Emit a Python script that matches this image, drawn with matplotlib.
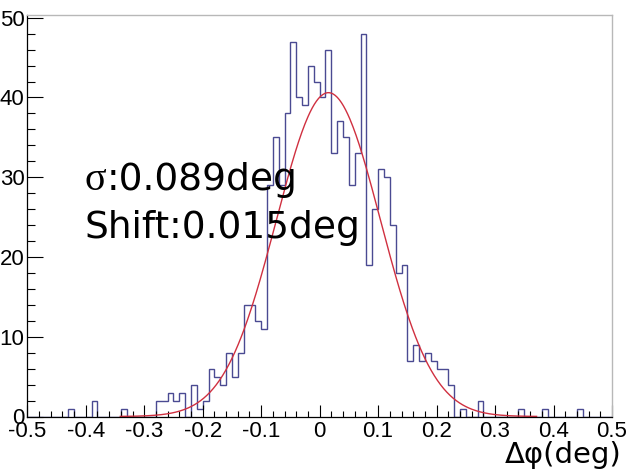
import numpy as np
import matplotlib.pyplot as plt
from matplotlib.ticker import MultipleLocator
from matplotlib.transforms import ScaledTranslation

# delta-phi residuals, 100 bins of 0.01 deg between -0.5 and 0.5
counts = [
    0, 0, 0, 0, 0, 0, 0, 1, 0, 0,
    0, 2, 0, 0, 0, 0, 1, 0, 0, 0,
    0, 0, 2, 2, 3, 2, 3, 0, 4, 1,
    2, 6, 5, 4, 8, 5, 8, 14, 14, 12,
    11, 29, 35, 29, 38, 47, 40, 39, 44, 42,
    40, 46, 33, 37, 35, 29, 33, 48, 19, 26,
    31, 30, 24, 18, 19, 7, 9, 7, 8, 7,
    6, 6, 4, 0, 1, 0, 0, 2, 0, 0,
    0, 0, 0, 0, 1, 0, 0, 0, 1, 0,
    0, 0, 0, 0, 1, 0, 0, 0, 0, 0,
]
x_lo, x_hi = -0.5, 0.5

# gaussian fit result
fit_amp = 40.6
fit_sigma = 0.089
fit_shift = 0.015

xtick_vals = [-0.5, -0.4, -0.3, -0.2, -0.1, 0, 0.1, 0.2, 0.3, 0.4, 0.5]
xtick_labels = ["-0.5", "-0.4", "-0.3", "-0.2", "-0.1", "0",
                "0.1", "0.2", "0.3", "0.4", "0.5"]
ytick_vals = [0, 10, 20, 30, 40, 50]

W, H = 628, 471
fig = plt.figure(figsize=(W / 100, H / 100), dpi=100)
ax = fig.add_axes([27.3 / W, 1 - 416.5 / H, 584.7 / W, 401.2 / H])

edges = np.linspace(x_lo, x_hi, len(counts) + 1)
ax.stairs(counts, edges, color="#4a4a92", lw=1.0)

# fit drawn over mean +- 4 sigma
xf = np.linspace(fit_shift - 4 * fit_sigma, fit_shift + 4 * fit_sigma, 400)
yf = fit_amp * np.exp(-0.5 * ((xf - fit_shift) / fit_sigma) ** 2)
ax.plot(xf, yf, color="#d03040", lw=1.0)

ax.set_xlim(x_lo, x_hi)
ax.set_ylim(0, 50.3)

ax.set_xticks(xtick_vals)
ax.set_xticklabels(xtick_labels)
ax.set_yticks(ytick_vals)
ax.xaxis.set_minor_locator(MultipleLocator(0.02))
ax.yaxis.set_minor_locator(MultipleLocator(2))

for lab in ax.get_xticklabels() + ax.get_yticklabels():
    lab.set_fontfamily("Liberation Sans")
    lab.set_fontsize(16)

# lift the "0" on the y axis a little off the x labels
zero_lab = ax.get_yticklabels()[0]
zero_lab.set_transform(zero_lab.get_transform()
                       + ScaledTranslation(0, 4 / 72, fig.dpi_scale_trans))

ax.tick_params(axis="x", which="major", direction="in", length=8.5, width=0.8, pad=3)
ax.tick_params(axis="x", which="minor", direction="in", length=4.3, width=0.8)
ax.tick_params(axis="y", which="major", direction="in", length=11.5, width=0.8, pad=2)
ax.tick_params(axis="y", which="minor", direction="in", length=5.8, width=0.8)
ax.tick_params(top=False, right=False, which="both")

for side in ("top", "right"):
    ax.spines[side].set_color("#b8b8b8")
    ax.spines[side].set_linewidth(1.0)
for side in ("left", "bottom"):
    ax.spines[side].set_color("black")
    ax.spines[side].set_linewidth(0.9)

# fit results written on the pad
ann_size = 27
ax.text(-0.403, 28.4, "σ", family="Liberation Serif", fontsize=ann_size + 2,
        va="baseline", ha="left")
ax.text(-0.365, 28.4, f":{fit_sigma:.3f}deg", family="DejaVu Sans",
        fontsize=ann_size, va="baseline", ha="left")
ax.text(-0.403, 22.4, f"Shift:{fit_shift:.3f}deg", family="DejaVu Sans",
        fontsize=ann_size, va="baseline", ha="left")

fig.text(622 / W, 8 / H, "Δφ(deg)", family="DejaVu Sans", fontsize=21,
         ha="right", va="baseline")

fig.savefig("out.png", dpi=100)
